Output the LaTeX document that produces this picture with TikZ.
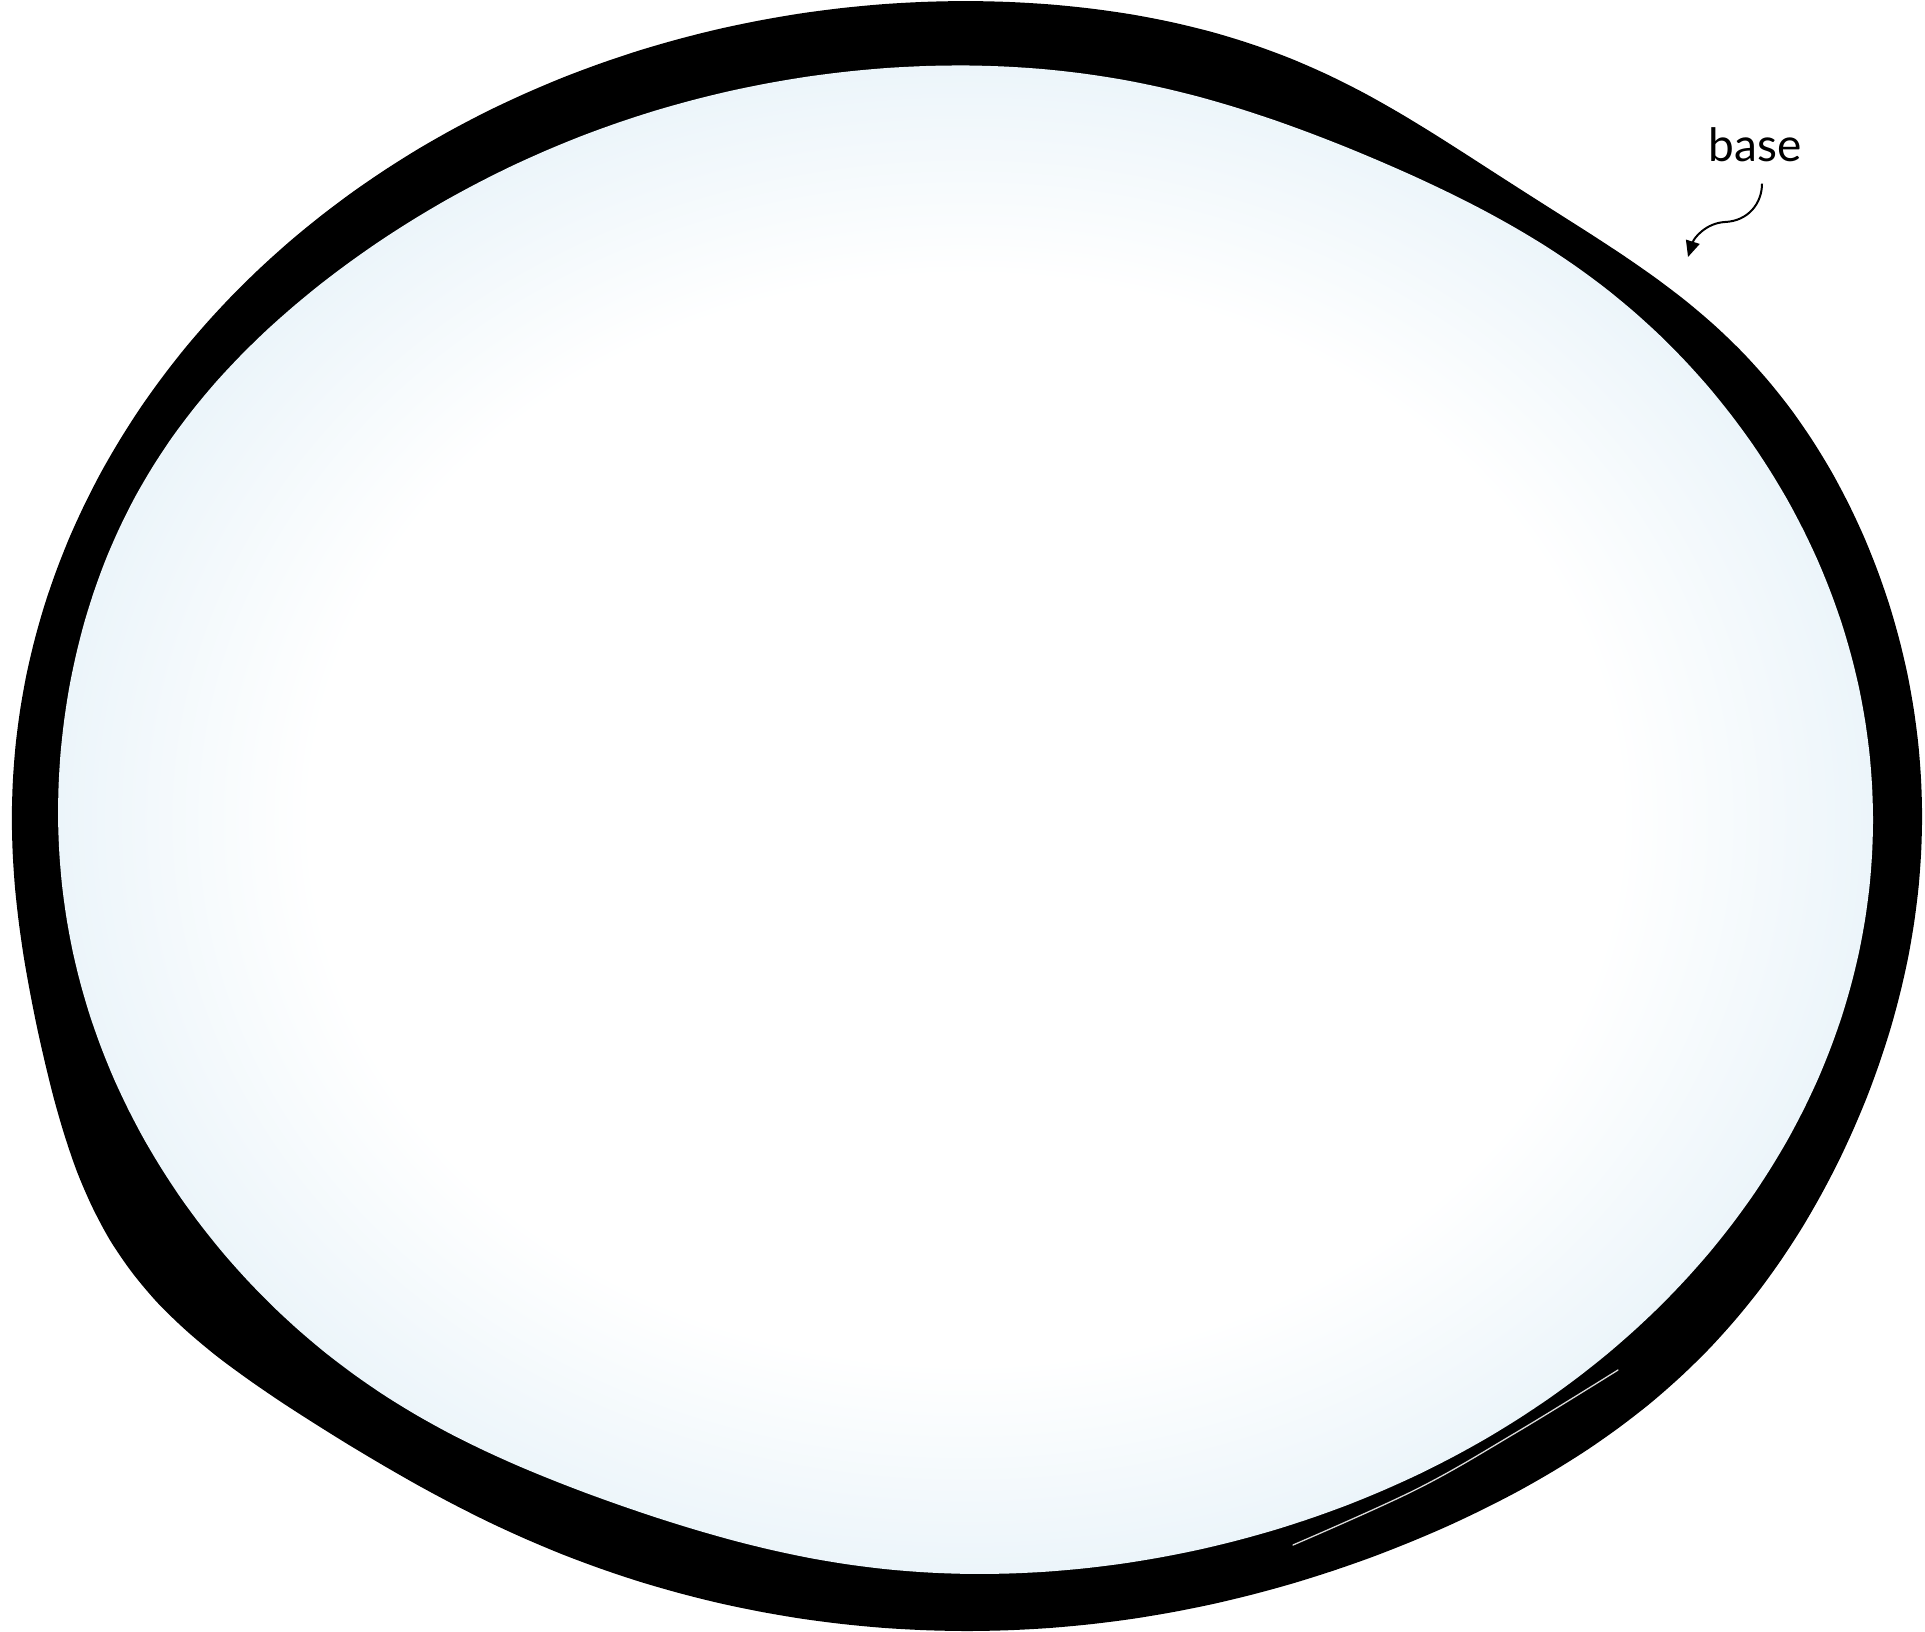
\documentclass[tikz,border=0pt]{standalone}
\usepackage{fontspec}
\setmainfont{Lato}
\usetikzlibrary{arrows.meta}
\definecolor{edgeblue}{RGB}{236,245,250}
\pgfdeclareradialshading{glowfill}{\pgfpoint{0bp}{0bp}}{color(0bp)=(white); color(18bp)=(white); color(25bp)=(edgeblue); color(50bp)=(edgeblue)}
\begin{document}
\begin{tikzpicture}[x=1pt,y=-1pt,
  declare function={
    bmp(\ua,\ub,\uc)=((1+cos(\ua-\ub))/2)^(\uc);
    dout(\ua)=-32*bmp(\ua,53,58)+35*bmp(\ua,212,70)+14*bmp(\ua,318,40);
    din(\ua)=-12*bmp(\ua,63,58)-12*bmp(\ua,247,58)+10*bmp(\ua,152,40);
  },
  ring/.style={fill=black},
  face/.style={shading=glowfill},
  gleam/.style={draw=white!85!black, line width=1.3pt, line cap=round},
  lbl/.style={font=\fontsize{46}{55}\selectfont, inner sep=0pt, anchor=base},
  pointer/.style={draw=black, line width=2pt, -{Triangle[length=16pt,width=14pt]}}]
\useasboundingbox (0,0) rectangle (1925,1632);
% outer black band
\fill[ring] plot[smooth cycle, domain=0:357.5, samples=144]
  ({967+(955+dout(\x))*cos(\x)}, {816-(815+dout(\x))*sin(\x)});
% inner light face
\fill[face] plot[smooth cycle, domain=0:357.5, samples=144]
  ({966+(907+din(\x))*cos(\x)}, {820-(755+din(\x))*sin(\x)});
% thin highlight inside the band
\draw[gleam] plot[smooth, tension=0.6] coordinates {(1618,1370) (1517,1432) (1417,1489) (1293,1545)};
% label and its pointer
\node[lbl] (base) at (1755,162) {base};
\coordinate (tip) at (1688,257);
\draw[pointer] ([xshift=7pt,yshift=-21pt]base.south) .. controls +(0,20) and (1748,221) .. (1725,222)
  .. controls (1706,223) and (1694,238) .. (tip);
\end{tikzpicture}
\end{document}
